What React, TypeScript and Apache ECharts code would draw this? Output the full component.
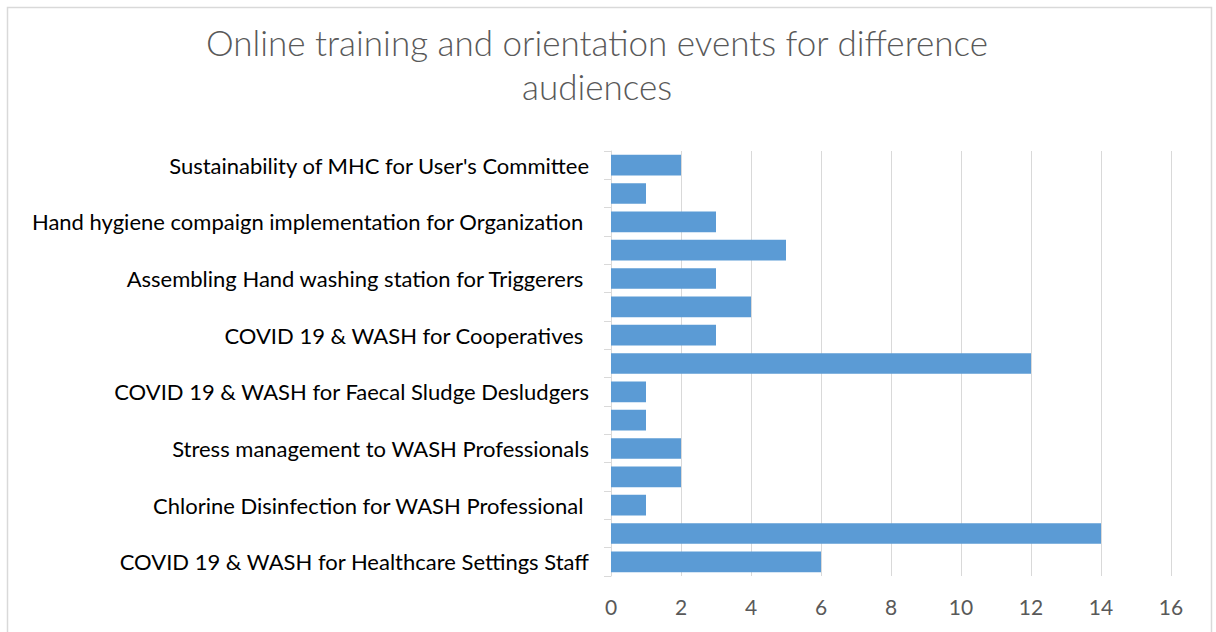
import React, { useEffect, useRef } from "react";
import * as echarts from "echarts";

const TITLE_TEXT = "Online training and orientation events for difference\naudiences";

// bottom to top
const categories: string[] = [
  "COVID 19 & WASH for Healthcare Settings Staff",
  "",
  "Chlorine Disinfection for WASH Professional ",
  "",
  "Stress management to WASH Professionals",
  "",
  "COVID 19 & WASH for Faecal Sludge Desludgers",
  "",
  "COVID 19 & WASH for Cooperatives ",
  "",
  "Assembling Hand washing station for Triggerers ",
  "",
  "Hand hygiene compaign implementation for Organization ",
  "",
  "Sustainability of MHC for User's Committee",
];

const values: number[] = [6, 14, 1, 2, 2, 1, 1, 12, 3, 4, 3, 5, 3, 1, 2];

const X_MIN = 0;
const X_MAX = 16;
const X_INTERVAL = 2;

export default function App() {
  const ref = useRef<HTMLDivElement>(null);
  useEffect(() => {
    if (!ref.current) return;
    const chart = echarts.init(ref.current, undefined, { renderer: "svg" });
    chart.setOption({
      animation: false,
      backgroundColor: "#ffffff",
      textStyle: { fontFamily: "Lato" },
      title: {
        text: TITLE_TEXT,
        left: 592,
        top: 15,
        textAlign: "center",
        textStyle: {
          fontFamily: "Lato",
          fontWeight: 300,
          fontSize: 35,
          lineHeight: 44,
          color: "#595959",
        },
      },
      graphic: [
        {
          type: "rect",
          shape: { x: 7.5, y: 7.5, width: 1204, height: 640 },
          style: { fill: "none", stroke: "#d9d9d9", lineWidth: 1.5 },
          silent: true,
        },
      ],
      grid: { left: 611, top: 151, width: 560, height: 425, containLabel: false },
      xAxis: {
        type: "value",
        min: X_MIN,
        max: X_MAX,
        interval: X_INTERVAL,
        axisLine: { show: false },
        axisTick: { show: false },
        splitLine: { show: true, lineStyle: { color: "#d9d9d9", width: 1 } },
        axisLabel: { color: "#595959", fontSize: 21, margin: 20, fontFamily: "Lato" },
      },
      yAxis: {
        type: "category",
        data: categories,
        axisLine: { show: true, lineStyle: { color: "#d9d9d9", width: 1 } },
        axisTick: { show: true, length: 7, interval: 0, lineStyle: { color: "#d9d9d9" } },
        axisLabel: {
          interval: 1,
          color: "#000000",
          fontSize: 22,
          margin: 22,
          fontFamily: "Lato",
        },
        splitLine: { show: false },
      },
      series: [
        {
          type: "bar",
          data: values,
          barCategoryGap: "27%",
          itemStyle: { color: "#5b9bd5" },
        },
      ],
    });
    return () => chart.dispose();
  }, []);
  return (
    <div
      ref={ref}
      style={{ position: "absolute", left: 0, top: 0, width: 1216, height: 632 }}
    />
  );
}
